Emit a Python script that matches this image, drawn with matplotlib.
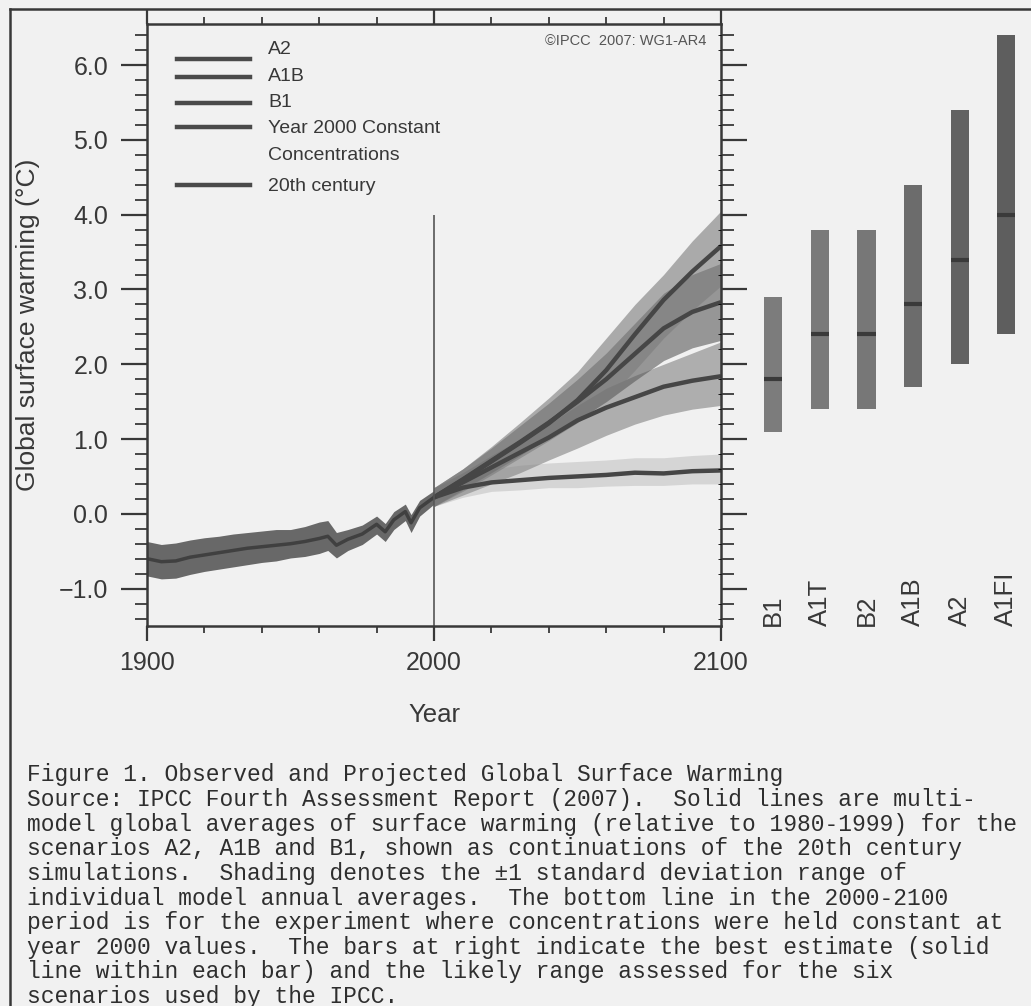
import numpy as np
import matplotlib.pyplot as plt
from matplotlib.lines import Line2D
from matplotlib.ticker import MultipleLocator, FuncFormatter

plt.rcParams['font.family'] = ['Liberation Sans', 'DejaVu Sans']

# 20th century simulations (multi-model mean and +-1 sd band)
hist_years = [1900, 1905, 1910, 1915, 1920, 1925, 1930, 1935, 1940, 1945, 1950, 1955,
              1960, 1963, 1966, 1970, 1975, 1980, 1983, 1986, 1990, 1992, 1995, 2000]
hist_mean = [-0.60, -0.64, -0.63, -0.58, -0.55, -0.52, -0.49, -0.46, -0.44, -0.42, -0.40, -0.37,
             -0.33, -0.30, -0.42, -0.34, -0.27, -0.14, -0.24, -0.08, 0.03, -0.12, 0.08, 0.22]
hist_high = [-0.37, -0.41, -0.39, -0.35, -0.32, -0.30, -0.27, -0.25, -0.23, -0.21, -0.21, -0.17,
             -0.11, -0.09, -0.25, -0.21, -0.15, -0.03, -0.13, 0.03, 0.13, -0.01, 0.18, 0.31]
hist_low = [-0.83, -0.87, -0.86, -0.81, -0.77, -0.74, -0.71, -0.68, -0.65, -0.63, -0.59, -0.57,
            -0.53, -0.49, -0.59, -0.49, -0.41, -0.27, -0.37, -0.21, -0.09, -0.25, -0.03, 0.13]

# projections 2000-2100
proj_years = [2000, 2010, 2020, 2030, 2040, 2050, 2060, 2070, 2080, 2090, 2100]
a2_mean = [0.22, 0.45, 0.70, 0.95, 1.21, 1.52, 1.92, 2.40, 2.86, 3.24, 3.58]
a2_high = [0.35, 0.60, 0.90, 1.22, 1.55, 1.90, 2.35, 2.80, 3.20, 3.65, 4.05]
a2_low = [0.10, 0.30, 0.52, 0.75, 0.98, 1.22, 1.52, 1.92, 2.35, 2.72, 3.05]
a1b_mean = [0.22, 0.46, 0.71, 0.96, 1.22, 1.50, 1.80, 2.14, 2.48, 2.70, 2.83]
a1b_high = [0.35, 0.60, 0.88, 1.18, 1.48, 1.80, 2.15, 2.55, 2.95, 3.20, 3.35]
a1b_low = [0.10, 0.32, 0.55, 0.78, 1.02, 1.25, 1.50, 1.78, 2.05, 2.22, 2.32]
b1_mean = [0.22, 0.42, 0.62, 0.82, 1.02, 1.25, 1.42, 1.56, 1.70, 1.78, 1.84]
b1_high = [0.35, 0.55, 0.78, 1.00, 1.20, 1.45, 1.68, 1.85, 2.00, 2.15, 2.30]
b1_low = [0.10, 0.25, 0.40, 0.55, 0.72, 0.88, 1.05, 1.20, 1.32, 1.40, 1.45]
commit_mean = [0.22, 0.35, 0.42, 0.45, 0.48, 0.50, 0.52, 0.55, 0.54, 0.57, 0.58]
commit_high = [0.35, 0.50, 0.60, 0.65, 0.68, 0.70, 0.72, 0.75, 0.75, 0.78, 0.80]
commit_low = [0.10, 0.22, 0.30, 0.32, 0.35, 0.35, 0.37, 0.38, 0.38, 0.40, 0.40]

# likely ranges and best estimates for 2090-2099
bar_names = ['B1', 'A1T', 'B2', 'A1B', 'A2', 'A1FI']
bar_low = [1.1, 1.4, 1.4, 1.7, 2.0, 2.4]
bar_high = [2.9, 3.8, 3.8, 4.4, 5.4, 6.4]
bar_best = [1.8, 2.4, 2.4, 2.8, 3.4, 4.0]
bar_colors = ['#7c7c7c', '#7a7a7a', '#777777', '#6c6c6c', '#626262', '#5e5e5e']

legend_labels = ['A2', 'A1B', 'B1', 'Year 2000 Constant', 'Concentrations', '20th century']

caption = [
    'Figure 1. Observed and Projected Global Surface Warming',
    'Source: IPCC Fourth Assessment Report (2007).  Solid lines are multi-',
    'model global averages of surface warming (relative to 1980-1999) for the',
    'scenarios A2, A1B and B1, shown as continuations of the 20th century',
    'simulations.  Shading denotes the \u00b11 standard deviation range of',
    'individual model annual averages.  The bottom line in the 2000-2100',
    'period is for the experiment where concentrations were held constant at',
    'year 2000 values.  The bars at right indicate the best estimate (solid',
    'line within each bar) and the likely range assessed for the six',
    'scenarios used by the IPCC.',
]

bg = '#f1f1f1'
ink = '#383838'
W, H = 1031, 1006

fig = plt.figure(figsize=(W / 100, H / 100), dpi=100, facecolor=bg)
ax = fig.add_axes([147 / W, 1 - 626 / H, 574 / W, 602 / H], facecolor=bg)

# shading
ax.fill_between(hist_years, hist_low, hist_high, color='#555555', alpha=0.88, lw=0)
ax.fill_between(proj_years, commit_low, commit_high, color='#b4b4b4', alpha=0.45, lw=0)
ax.fill_between(proj_years, b1_low, b1_high, color='#858585', alpha=0.62, lw=0)
ax.fill_between(proj_years, a1b_low, a1b_high, color='#5a5a5a', alpha=0.6, lw=0)
ax.fill_between(proj_years, a2_low, a2_high, color='#7c7c7c', alpha=0.6, lw=0)

# mean lines
line_kw = dict(color='#464646', lw=3.2, solid_capstyle='butt')
ax.plot(proj_years, commit_mean, **line_kw)
ax.plot(proj_years, b1_mean, **line_kw)
ax.plot(proj_years, a1b_mean, **line_kw)
ax.plot(proj_years, a2_mean, **line_kw)
ax.plot(hist_years, hist_mean, color='#404040', lw=2.5)

ax.vlines(2000, -1.5, 4.0, color='#555555', lw=1.2)

ax.set_xlim(1900, 2100)
ax.set_ylim(-1.5, 6.55)
ax.xaxis.set_major_locator(MultipleLocator(100))
ax.xaxis.set_minor_locator(MultipleLocator(20))
ax.yaxis.set_major_locator(MultipleLocator(1.0))
ax.yaxis.set_minor_locator(MultipleLocator(0.2))
ax.yaxis.set_major_formatter(FuncFormatter(lambda v, p: f'{v:.1f}'.replace('-', '\u2212')))
ax.tick_params(axis='x', which='both', direction='out', top=True, bottom=True,
               color=ink, labelsize=18, labelcolor=ink, pad=7)
ax.tick_params(axis='x', which='major', length=11, width=1.6)
ax.tick_params(axis='x', which='minor', length=5, width=1.3)
ax.tick_params(axis='y', which='both', direction='out', left=True, right=True,
               color=ink, labelsize=18, labelcolor=ink, pad=9)
ax.tick_params(axis='y', which='major', length=19, width=1.6)
ax.tick_params(axis='y', which='minor', length=9, width=1.3)
for s in ax.spines.values():
    s.set_linewidth(1.8)
    s.set_color(ink)

ax.set_ylabel('Global surface warming (\u00b0C)', fontsize=19, color=ink)
ax.yaxis.set_label_coords(-0.186, 0.5)
ax.set_xlabel('Year', fontsize=18.5, color=ink)
ax.xaxis.set_label_coords(0.5, -0.128)

ax.text(0.975, 0.984, '\u00a9IPCC  2007: WG1-AR4', transform=ax.transAxes,
        ha='right', va='top', fontsize=10.5, color='#555555')

# legend drawn by hand so the two-line entry aligns like the original
text_y = [0.957, 0.912, 0.869, 0.826, 0.782, 0.730]
line_y = [0.942, 0.912, 0.869, 0.829, None, 0.733]
for lab, ty, ly in zip(legend_labels, text_y, line_y):
    if ly is not None:
        ax.add_line(Line2D([0.052, 0.179], [ly, ly], transform=ax.transAxes,
                           color='#4a4a4a', lw=3.2))
    ax.text(0.211, ty, lab, transform=ax.transAxes, ha='left', va='center',
            fontsize=14, color=ink)

# bars at right
ax2 = fig.add_axes([721 / W, 1 - 626 / H, 310 / W, 602 / H], sharey=ax)
ax2.set_facecolor('none')
ax2.set_xlim(-1.12, 5.53)
for s in ax2.spines.values():
    s.set_visible(False)
ax2.tick_params(left=False, bottom=False, labelleft=False, labelbottom=False)
xpos = np.arange(len(bar_names))
heights = np.array(bar_high) - np.array(bar_low)
ax2.bar(xpos, heights, bottom=bar_low, width=0.39, color=bar_colors, lw=0)
ax2.hlines(bar_best, xpos - 0.195, xpos + 0.195, color='#3a3a3a', lw=3)
for x, name in zip(xpos, bar_names):
    ax2.text(x, 0.0, name, transform=ax2.get_xaxis_transform(), rotation=90,
             ha='center', va='bottom', fontsize=18.5, color=ink)

# outer frame
fig.add_artist(Line2D([10 / W, 1], [1 - 9 / H, 1 - 9 / H], transform=fig.transFigure,
                      color=ink, lw=1.8))
fig.add_artist(Line2D([10 / W, 10 / W], [0, 1 - 9 / H], transform=fig.transFigure,
                      color=ink, lw=1.8))

# caption
for i, line in enumerate(caption):
    fig.text(27 / W, 1 - (775 + i * 24.6) / H, line, family='Liberation Mono',
             fontsize=16.5, color='#2e2e2e', ha='left', va='center')

fig.savefig('out.png', dpi=100, facecolor=bg)
